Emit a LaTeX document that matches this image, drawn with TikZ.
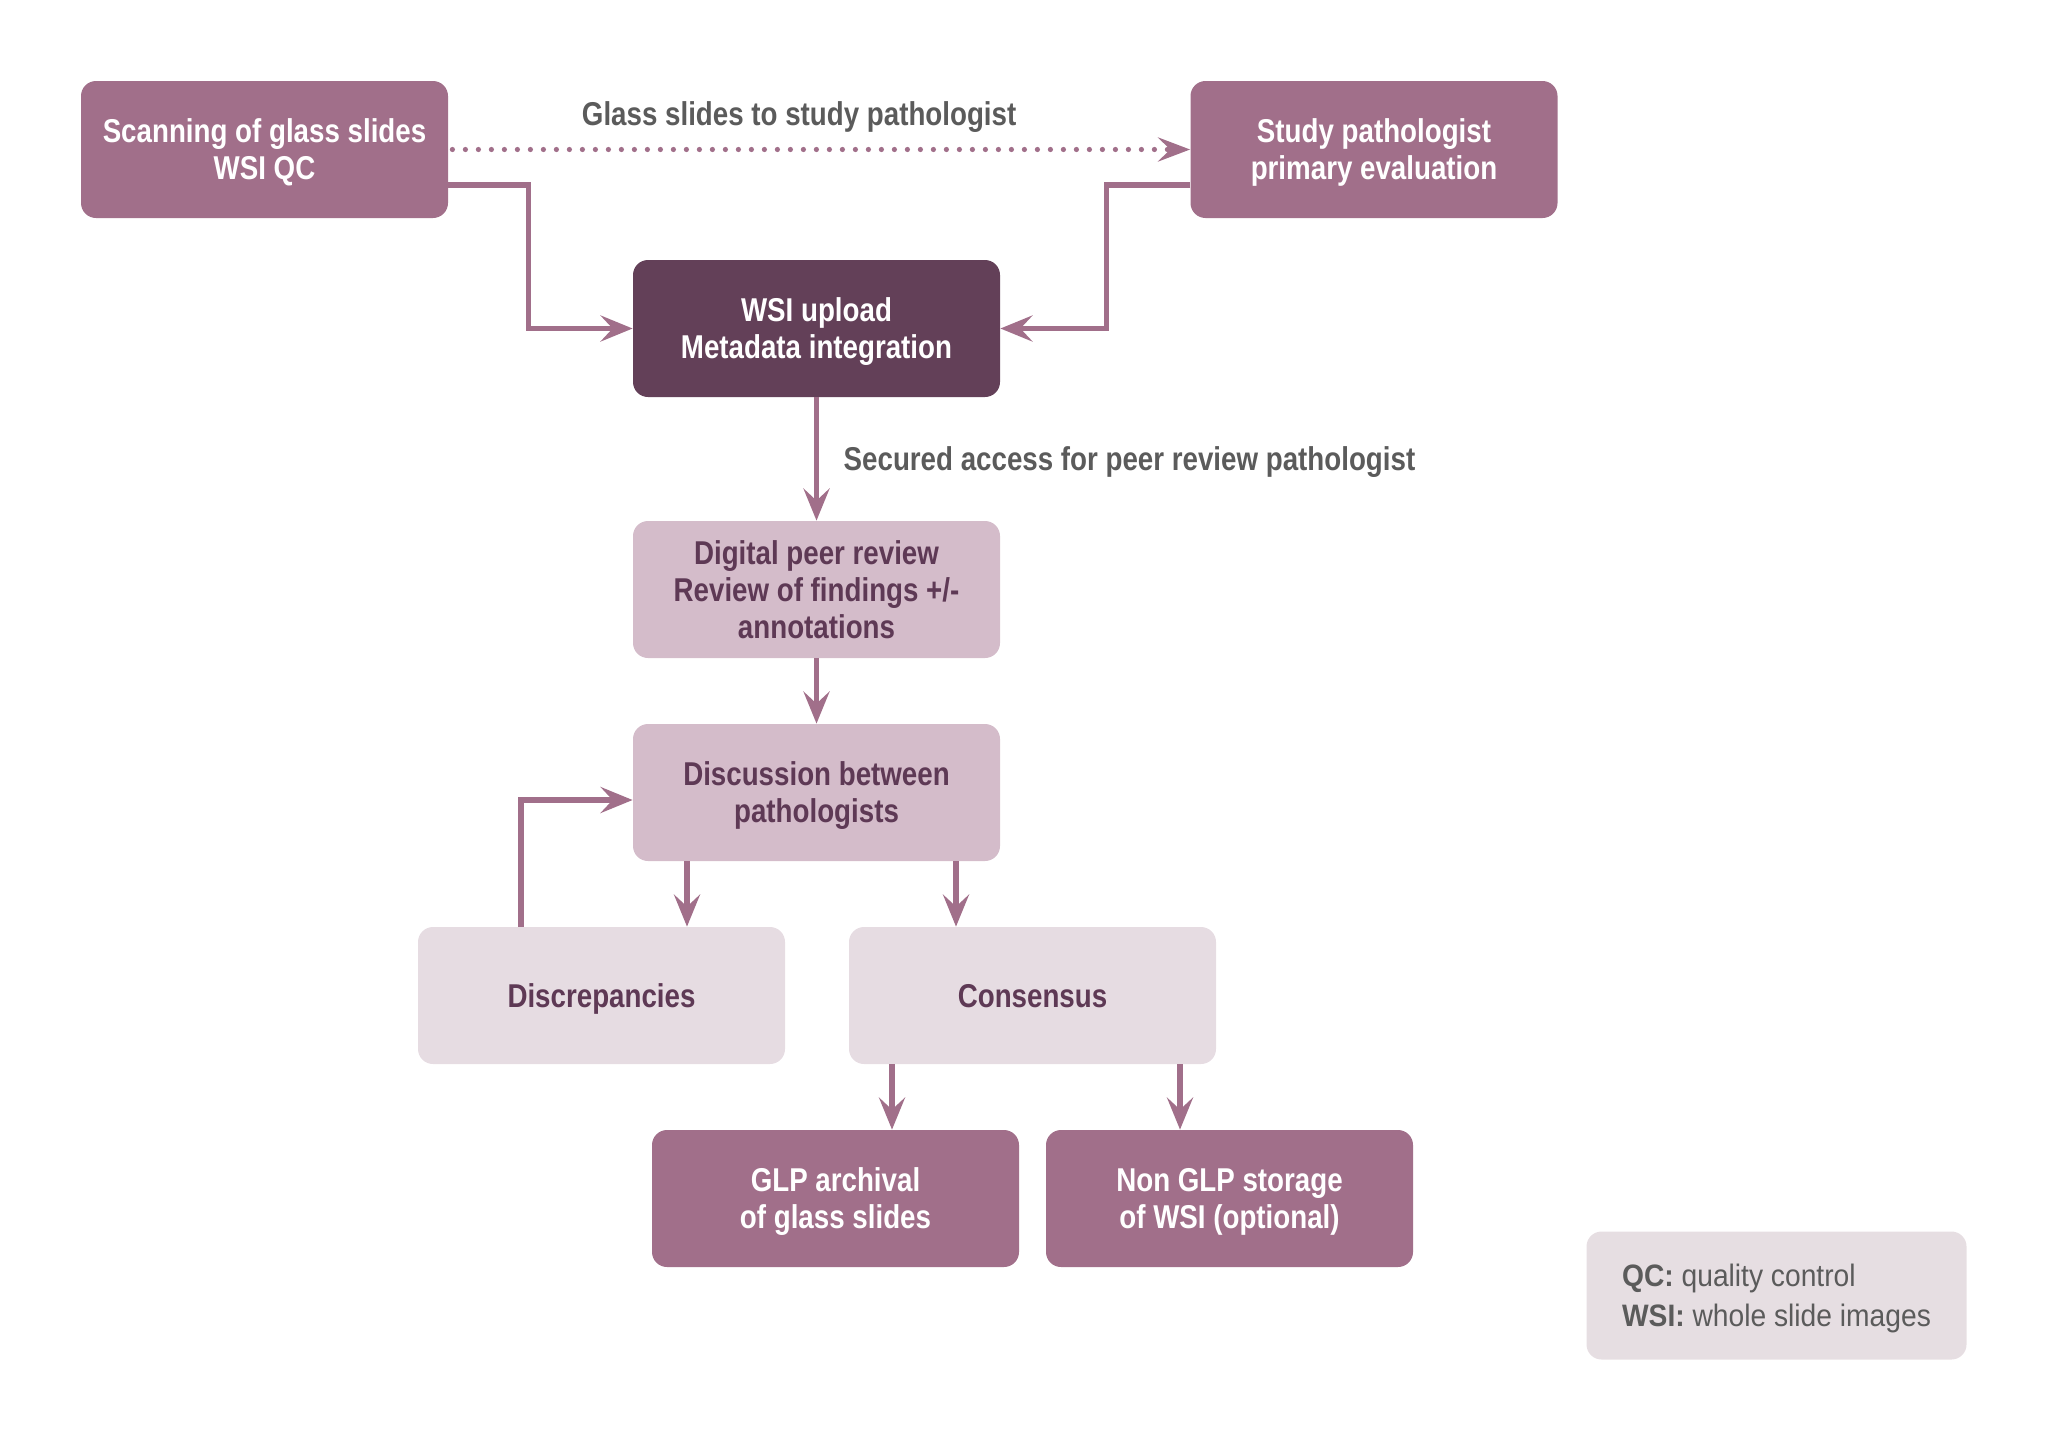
\documentclass[tikz,border=0pt]{standalone}
\usepackage{fontspec}
\setmainfont{Liberation Sans}[FakeStretch=0.84]
\newfontfamily\legfont{Liberation Sans}[FakeStretch=0.91]
\usetikzlibrary{arrows.meta,calc}
\definecolor{midc}{HTML}{A16F8A}
\definecolor{darkc}{HTML}{634058}
\definecolor{lightc}{HTML}{D4BCCA}
\definecolor{paler}{HTML}{E6DCE2}
\definecolor{legc}{HTML}{E6DEE2}
\definecolor{arrc}{HTML}{A16F8A}
\definecolor{ltxt}{HTML}{5E3955}
\definecolor{gtxt}{HTML}{5B5B5B}
\begin{document}
\begin{tikzpicture}[x=0.5pt,y=-0.5pt,
  box/.style={rectangle, rounded corners=7.5pt, minimum width=183.5pt, minimum height=68.5pt,
    align=center, inner sep=0pt, text depth=0pt, font=\fontsize{16.5}{18.5}\selectfont\bfseries},
  midbox/.style={box, fill=midc, text=white},
  darkbox/.style={box, fill=darkc, text=white},
  lightbox/.style={box, fill=lightc, text=ltxt},
  palebox/.style={box, fill=paler, text=ltxt},
  legbox/.style={rectangle, rounded corners=7.5pt, minimum width=190pt, minimum height=64pt,
    inner sep=0pt, fill=legc, text=gtxt, align=left, text depth=0pt,
    font=\legfont\fontsize{15.5}{20}\selectfont},
  lbl/.style={text=gtxt, font=\fontsize{16.5}{18.5}\selectfont\bfseries, inner sep=0pt},
  arr/.style={draw=arrc, line width=2.7pt, -{Stealth[length=16pt,width=13pt,inset=6pt]}},
  dotarr/.style={draw=arrc, line width=2.6pt, line cap=round, dash pattern=on 0pt off 6.5pt,
    -{Stealth[length=16pt,width=12pt,inset=6pt]}}
]
\useasboundingbox (0,0) rectangle (2048,1440);

\node[midbox] (scan) at (264.5,149.5) {Scanning of glass slides\\WSI QC};
\node[midbox] (study) at (1374,149.5) {Study pathologist\\primary evaluation};
\node[darkbox] (wsi) at (816.5,328.5) {WSI upload\\Metadata integration};
\node[lightbox] (dpr) at (816.5,589.5) {Digital peer review\\Review of findings +/-\\annotations};
\node[lightbox] (disc) at (816.5,792.5) {Discussion between\\pathologists};
\node[palebox] (discrep) at (601.5,995.5) {Discrepancies};
\node[palebox] (cons) at (1032.5,995.5) {Consensus};
\node[midbox] (glp) at (835.5,1198.5) {GLP archival\\of glass slides};
\node[midbox] (nonglp) at (1229.5,1198.5) {Non GLP storage\\of WSI (optional)};
\node[legbox] (legend) at (1776.5,1295.5) {{\bfseries QC:} quality control\\{\bfseries WSI:} whole slide images};

% dotted glass slides
\draw[dotarr] ([xshift=2pt]scan.east) -- (study.west)
  node[lbl, pos=0.47, anchor=base, yshift=12.25pt] {Glass slides to study pathologist};

% to WSI upload
\draw[arr] ($(scan.east)+(0,35.5)$) -| ($(wsi.west)+(-104,0)$) -- (wsi.west);
\draw[arr] ($(study.west)+(0,35.5)$) -| ($(wsi.east)+(106,0)$) -- (wsi.east);

% WSI -> digital peer review
\draw[arr] (wsi.south) -- (dpr.north)
  node[lbl, pos=0.59, anchor=base west, xshift=12.25pt] {Secured access for peer review pathologist};

\draw[arr] (dpr.south) -- (disc.north);

\draw[arr] ([xshift=-64.75pt]disc.south) -- ([xshift=-64.75pt]disc.south |- discrep.north);
\draw[arr] ([xshift=69.75pt]disc.south) -- ([xshift=69.75pt]disc.south |- cons.north);

\draw[arr] ([xshift=-40.25pt]discrep.north) |- ([yshift=-3.75pt]disc.west);

\draw[arr] ([xshift=-70.25pt]cons.south) -- ([xshift=-70.25pt]cons.south |- glp.north);
\draw[arr] ([xshift=73.75pt]cons.south) -- ([xshift=73.75pt]cons.south |- nonglp.north);

\end{tikzpicture}
\end{document}
